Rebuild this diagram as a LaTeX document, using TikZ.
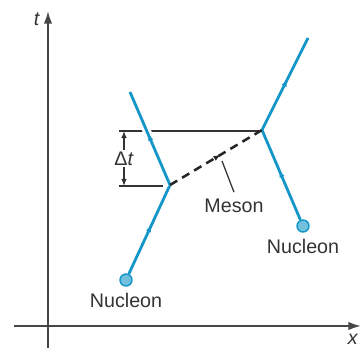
\documentclass[tikz,border=0pt]{standalone}
\usepackage{fontspec}
\setmainfont{Liberation Sans}
\usetikzlibrary{arrows.meta, positioning, decorations.markings}

\definecolor{nucblue}{RGB}{20,150,200}
\definecolor{axisgray}{RGB}{70,70,70}

\begin{document}
\begin{tikzpicture}[
    x=0.025cm, y=-0.025cm,
    axis/.style={draw=axisgray, line width=1.4pt},
    world/.style={draw=nucblue, line width=2pt,
        postaction={decorate, decoration={markings,
            mark=at position 0.55 with {\arrow[nucblue]{Latex[length=5pt, width=4pt]}}}}},
    nucleon/.style={circle, draw=nucblue, fill=nucblue!60!white, line width=1pt,
        minimum size=0.3cm, inner sep=0pt},
    meson/.style={draw=black!85, line width=1.8pt, dash pattern=on 6pt off 4pt,
        postaction={decorate, decoration={markings,
            mark=at position 0.55 with {\arrow{Latex[length=5pt, width=4pt]}}}}},
    guide/.style={draw=black!80, line width=0.9pt},
    every node/.style={font=\fontsize{14}{16}\selectfont, text=black!80},
]
\useasboundingbox (0,0) rectangle (362,348);

% Axes
\coordinate (xl) at (14,326);
\coordinate (xr) at (361,326);
\coordinate (tb) at (48,348);
\coordinate (tt) at (48,11);
\draw[axis, -{Latex[length=9pt, width=6pt]}] (xl) -- (xr);
\draw[axis, -{Latex[length=9pt, width=6pt]}] (tb) -- (tt);
\node (tlab) at (37,19) {\textit{t}};
\node (xlab) at (353,339) {\textit{x}};

% Vertices and ends of the world lines
\coordinate (v1) at (170,185);
\coordinate (v2) at (262,130);
\coordinate (e1) at (130,92);
\coordinate (e2) at (308,38);
\node[nucleon] (n1) at (126,280) {};
\node[nucleon] (n2) at (303,226) {};

% Time marks
\coordinate (h1) at (119,131);
\coordinate (h2) at (119,186);
\draw[guide] (h1) -- (h1 -| v2);
\draw[guide, shorten >=5pt] (h2) -- (h2 -| v1);
\coordinate (d1) at (124,131);
\coordinate (d2) at (124,186);
\draw[guide, {Latex[length=5pt, width=4pt]}-{Latex[length=5pt, width=4pt]}] (d1) -- node[fill=white, inner sep=1pt] (dt) {Δ\textit{t}} (d2);

% World lines
\draw[world] (n1) -- (v1);
\draw[world, preaction={draw=white, line width=6pt}] (v1) -- (e1);
\draw[world] (n2) -- (v2);
\draw[world] (v2) -- (e2);

% Meson exchange
\draw[meson] (v1) -- (v2);
\coordinate (mp) at (222,161);
\node (mlab) at (234,206) {Meson};
\draw[guide] (mlab.north) ++(0,-2) -- (mp);

% Labels
\node[below=1pt of n1] (l1) {Nucleon};
\node[below=1pt of n2] (l2) {Nucleon};

\end{tikzpicture}
\end{document}
